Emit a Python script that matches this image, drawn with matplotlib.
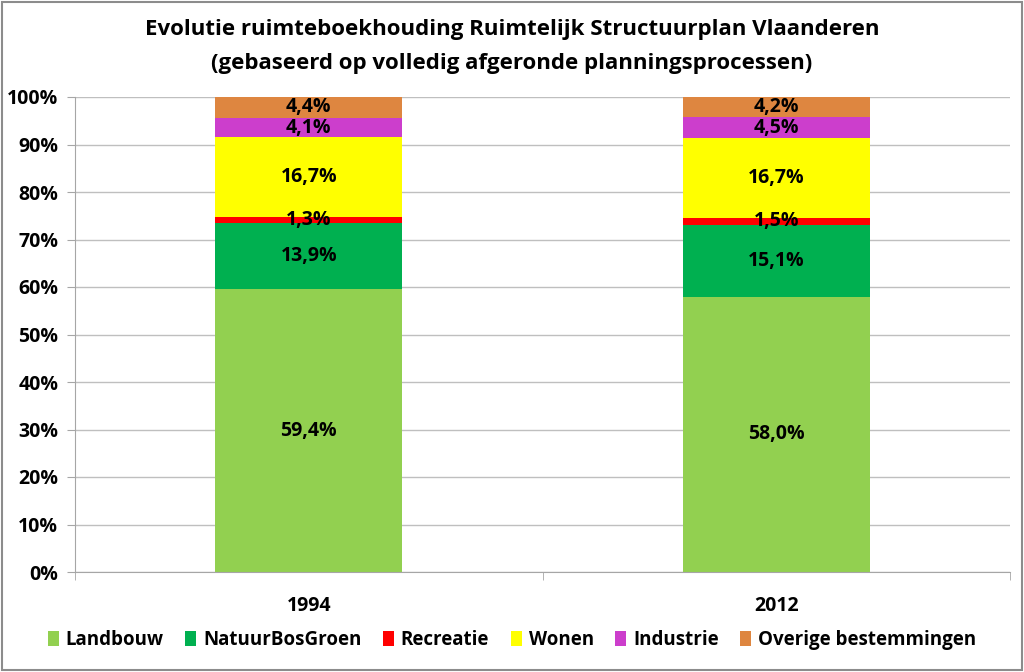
import numpy as np
import matplotlib.pyplot as plt
from matplotlib.ticker import FixedLocator

plt.rcParams['font.family'] = ['Liberation Sans Narrow', 'Open Sans', 'DejaVu Sans']
plt.rcParams['font.weight'] = 'bold'

years = ["1994", "2012"]
series = ["Landbouw", "NatuurBosGroen", "Recreatie", "Wonen", "Industrie", "Overige bestemmingen"]
landbouw = [59.4, 58.0]
natuur = [13.9, 15.1]
recreatie = [1.3, 1.5]
wonen = [16.7, 16.7]
industrie = [4.1, 4.5]
overige = [4.4, 4.2]
colors = ["#92D050", "#00B050", "#FF0000", "#FFFF00", "#CC3ECC", "#DE8640"]

values = np.array([landbouw, natuur, recreatie, wonen, industrie, overige])
shares = values / values.sum(axis=0) * 100

fig = plt.figure(figsize=(10.24, 6.72), dpi=100)
ax = fig.add_axes([75 / 1024, 1 - 572 / 672, 935 / 1024, 475 / 672])

x = np.arange(len(years))
bottom = np.zeros(len(years))
for name, col, share, raw in zip(series, colors, shares, values):
    ax.bar(x, share, 0.4, bottom=bottom, color=col, label=name, zorder=2)
    for xi, b, s, r in zip(x, bottom, share, raw):
        ax.text(xi, b + s / 2, ("%.1f%%" % r).replace(".", ","), ha="center", va="center",
                fontsize=14, fontweight="bold", zorder=3)
    bottom += share

ax.set_xlim(-0.5, 1.5)
ax.set_ylim(0, 100)
ax.set_yticks(np.arange(0, 101, 10))
ax.set_yticklabels(["%d%%" % v for v in range(0, 101, 10)], fontsize=14, fontweight="bold")
ax.yaxis.grid(True, color="#BFBFBF", linewidth=1, zorder=0)
ax.set_xticks(x)
ax.set_xticklabels(years, fontsize=14, fontweight="bold")
ax.xaxis.set_minor_locator(FixedLocator([-0.5, 0.5, 1.5]))
ax.tick_params(axis="x", which="major", length=0, pad=17)
ax.tick_params(axis="x", which="minor", length=6, color="#A6A6A6")
ax.tick_params(axis="y", length=6, color="#A6A6A6", pad=6)
for side in ["top", "right"]:
    ax.spines[side].set_visible(False)
for side in ["left", "bottom"]:
    ax.spines[side].set_color("#A6A6A6")

fig.text(0.5, 1 - 30 / 672, "Evolutie ruimteboekhouding Ruimtelijk Structuurplan Vlaanderen",
         ha="center", va="center", fontsize=16, fontweight="bold")
fig.text(0.5, 1 - 63 / 672, "(gebaseerd op volledig afgeronde planningsprocessen)",
         ha="center", va="center", fontsize=16, fontweight="bold")

fig.legend(loc="center", bbox_to_anchor=(0.5, 1 - 640 / 672), ncol=6, frameon=False,
           fontsize=13.5, handlelength=0.6, handleheight=0.9, handletextpad=0.35, columnspacing=1.15)

fig.patches.append(plt.Rectangle((0.002, 0.003), 0.996, 0.994, transform=fig.transFigure,
                                 fill=False, edgecolor="#8C8C8C", linewidth=1.5))

fig.savefig("out.png", dpi=100)
